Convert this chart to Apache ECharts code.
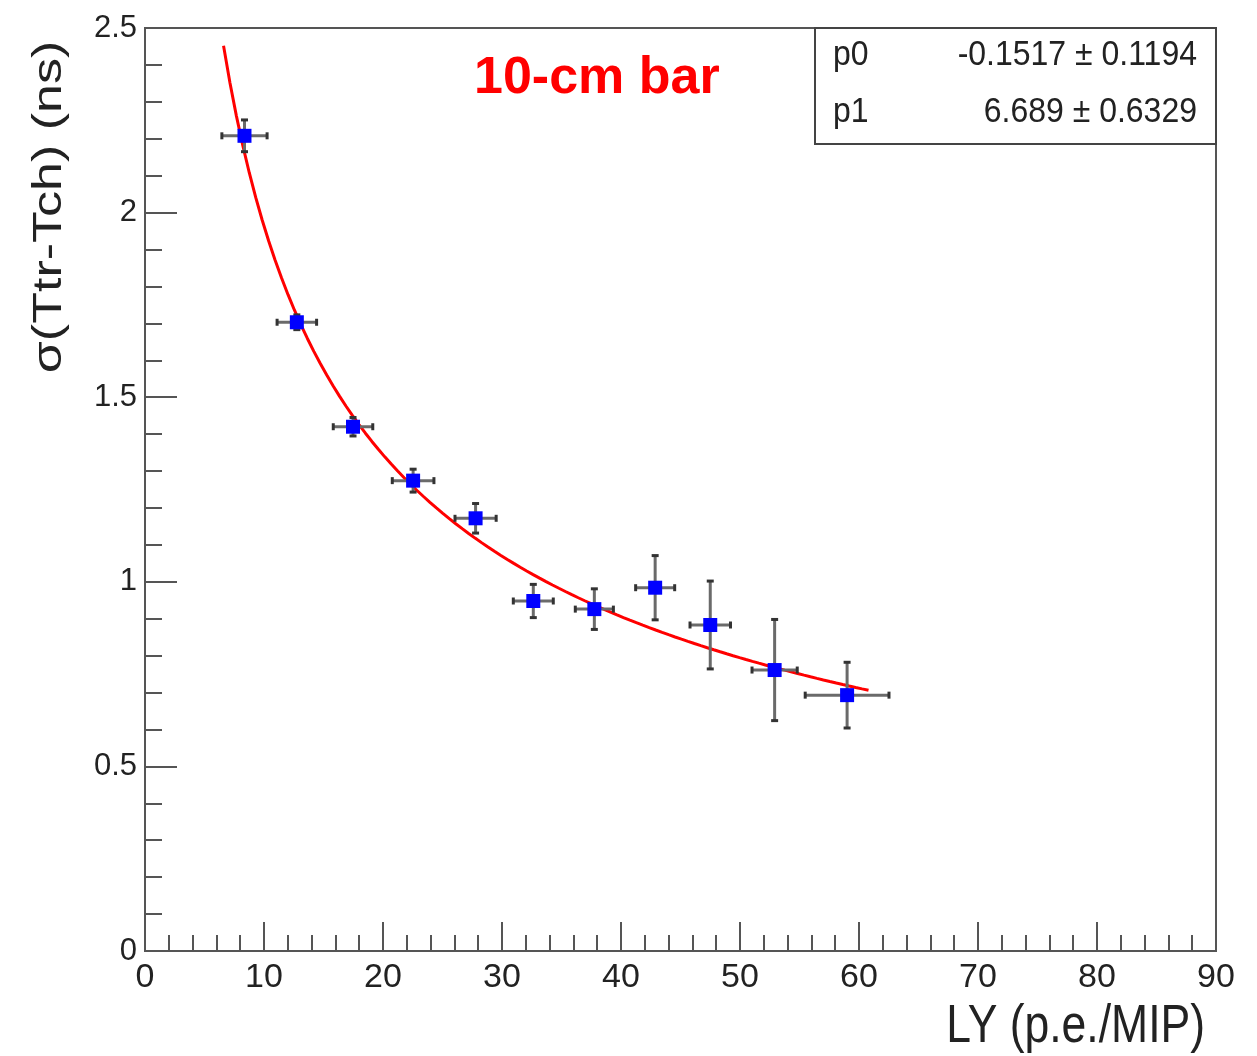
<!DOCTYPE html>
<html>
<head>
<meta charset="utf-8">
<script src="https://cdn.jsdelivr.net/npm/echarts@6/dist/echarts.min.js"></script>
<style>
html,body{margin:0;padding:0;background:#fff;}
#chart{width:1257px;height:1056px;}
</style>
</head>
<body>
<div id="chart"></div>
<script>
// ---- data ----
const lyValues    = [8.36, 12.76, 17.48, 22.53, 27.78, 32.63, 37.76, 42.87, 47.5, 52.91, 59.0];
const sigmaValues = [2.208, 1.703, 1.420, 1.274, 1.172, 0.948, 0.926, 0.984, 0.883, 0.761, 0.693];
const lyErr       = [1.9, 1.66, 1.66, 1.75, 1.73, 1.68, 1.6, 1.64, 1.7, 1.9, 3.52];
const sigmaErr    = [0.043, 0.02, 0.025, 0.031, 0.04, 0.045, 0.055, 0.087, 0.119, 0.137, 0.089];

// fit function p0 + p1/sqrt(x), parameters shown in the stats box
const fitParams = { p0: -0.1517, p1: 6.689 };
const fitRange  = [6.6, 60.8];
const statsRows = [
  ['p0', '-0.1517 \u00b1 0.1194'],
  ['p1', '6.689 \u00b1 0.6329']
];
const xTickValues = [0, 10, 20, 30, 40, 50, 60, 70, 80, 90];
const yTickValues = [0, 0.5, 1, 1.5, 2, 2.5];
const titleText = '10-cm bar';
const xName = 'LY (p.e./MIP)';
const yName = '\u03c3(Ttr-Tch) (ns)';

const FONT = '"Liberation Sans", Arial, Helvetica, sans-serif';

const fitCurve = [];
for (let i = 0; i <= 100; i++) {
  const x = fitRange[0] + (fitRange[1] - fitRange[0]) * i / 100;
  fitCurve.push([x, fitParams.p0 + fitParams.p1 / Math.sqrt(x)]);
}
const points = lyValues.map((x, i) => [x, sigmaValues[i]]);
const errRows = lyValues.map((x, i) => [x, sigmaValues[i], lyErr[i], sigmaErr[i]]);

const chart = echarts.init(document.getElementById('chart'));

const errColor = '#6a6a6a';
function renderErr(params, api) {
  const x = api.value(0), y = api.value(1), ex = api.value(2), ey = api.value(3);
  const l = api.coord([x - ex, y]), r = api.coord([x + ex, y]);
  const t = api.coord([x, y + ey]), b = api.coord([x, y - ey]);
  const st = { stroke: errColor, lineWidth: 3 };
  const cs = { stroke: '#333', lineWidth: 3 };
  const cap = 3.5;
  return {
    type: 'group',
    children: [
      { type: 'line', shape: { x1: l[0], y1: l[1], x2: r[0], y2: r[1] }, style: st },
      { type: 'line', shape: { x1: t[0], y1: t[1], x2: b[0], y2: b[1] }, style: st },
      { type: 'line', shape: { x1: l[0], y1: l[1] - cap, x2: l[0], y2: l[1] + cap }, style: cs },
      { type: 'line', shape: { x1: r[0], y1: r[1] - cap, x2: r[0], y2: r[1] + cap }, style: cs },
      { type: 'line', shape: { x1: t[0] - cap, y1: t[1], x2: t[0] + cap, y2: t[1] }, style: cs },
      { type: 'line', shape: { x1: b[0] - cap, y1: b[1], x2: b[0] + cap, y2: b[1] }, style: cs }
    ]
  };
}

const option = {
  backgroundColor: '#ffffff',
  animation: false,
  grid: { left: 145, right: 41, top: 28, bottom: 105, show: true, borderColor: '#555', borderWidth: 2, backgroundColor: 'transparent' },
  xAxis: {
    type: 'value', min: 0, max: 90, interval: 10,
    axisLine: { show: true, onZero: false, lineStyle: { color: '#555', width: 2 } },
    axisTick: { show: true, inside: true, length: 29, lineStyle: { color: '#555', width: 2 } },
    minorTick: { show: true, splitNumber: 5, length: 16, lineStyle: { color: '#555', width: 2 } },
    splitLine: { show: false },
    axisLabel: {
      margin: 10, fontFamily: FONT, fontSize: 34, color: '#222',
      formatter: v => (xTickValues.indexOf(v) >= 0 ? String(v) : '')
    }
  },
  yAxis: {
    type: 'value', min: 0, max: 2.5, interval: 0.5,
    axisLine: { show: true, onZero: false, lineStyle: { color: '#555', width: 2 } },
    axisTick: { show: true, inside: true, length: 32, lineStyle: { color: '#555', width: 2 } },
    minorTick: { show: true, splitNumber: 5, length: 17, lineStyle: { color: '#555', width: 2 } },
    splitLine: { show: false },
    axisLabel: {
      margin: 8, fontFamily: FONT, fontSize: 31, color: '#222',
      formatter: v => (yTickValues.indexOf(v) >= 0 ? String(v) : '')
    }
  },
  series: [
    {
      type: 'line', data: fitCurve, showSymbol: false, symbol: 'none', smooth: false,
      lineStyle: { color: '#ff0000', width: 3 }, z: 3, silent: true
    },
    {
      type: 'custom', data: errRows, renderItem: renderErr, z: 4, silent: true,
      encode: { x: 0, y: 1 }
    },
    {
      type: 'scatter', data: points, symbol: 'rect', symbolSize: 14,
      itemStyle: { color: '#0000ff', opacity: 1 }, z: 5, silent: true
    }
  ],
  graphic: [
    {
      type: 'rect', z: 10,
      shape: { x: 815, y: 28, width: 401, height: 116 },
      style: { fill: '#fff', stroke: '#444', lineWidth: 2 }
    },
    { type: 'text', z: 11, x: 833, y: 55, scaleY: 1.08, style: { text: statsRows[0][0], font: '32px ' + FONT, fill: '#222', textAlign: 'left', textVerticalAlign: 'middle' } },
    { type: 'text', z: 11, x: 1197, y: 55, scaleY: 1.08, style: { text: statsRows[0][1], font: '32px ' + FONT, fill: '#222', textAlign: 'right', textVerticalAlign: 'middle' } },
    { type: 'text', z: 11, x: 833, y: 112, scaleY: 1.08, style: { text: statsRows[1][0], font: '32px ' + FONT, fill: '#222', textAlign: 'left', textVerticalAlign: 'middle' } },
    { type: 'text', z: 11, x: 1197, y: 112, scaleY: 1.08, style: { text: statsRows[1][1], font: '32px ' + FONT, fill: '#222', textAlign: 'right', textVerticalAlign: 'middle' } },
    { type: 'text', z: 11, x: 474, y: 78.5, style: { text: titleText, font: 'bold 52px ' + FONT, fill: '#ff0000', textAlign: 'left', textVerticalAlign: 'middle' } },
    { type: 'text', z: 11, x: 1205, y: 1027, scaleX: 0.824, style: { text: xName, font: '54px ' + FONT, fill: '#222', textAlign: 'right', textVerticalAlign: 'middle' } },
    { type: 'text', z: 11, x: 50, y: 207, rotation: Math.PI / 2, scaleX: 1.3, style: { text: yName, font: '40px ' + FONT, fill: '#222', textAlign: 'center', textVerticalAlign: 'middle' } }
  ]
};
chart.setOption(option);
</script>
</body>
</html>
